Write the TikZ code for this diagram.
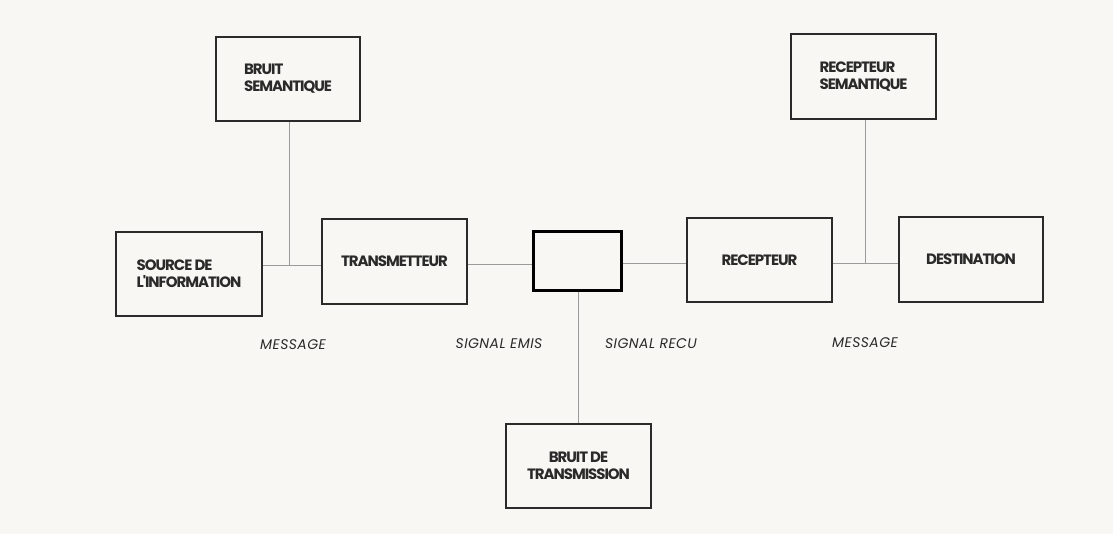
\documentclass[tikz,border=0pt]{standalone}
\usepackage{fontspec}
\setmainfont{Poppins}
\newfontfamily\boxfont[LetterSpace=-7]{Poppins}
\newfontfamily\lblfont[LetterSpace=3]{Poppins}
\definecolor{paper}{HTML}{F8F7F3}
\definecolor{ink}{HTML}{2A2A2A}
\definecolor{wire}{HTML}{9A9A9A}
\tikzset{
  box/.style={draw=ink, line width=1.3pt, rectangle, inner sep=0pt,
    minimum width=145pt, minimum height=84pt, text=ink,
    font=\boxfont\bfseries\fontsize{15}{17}\selectfont},
  chanbox/.style={draw=black, line width=2.4pt, rectangle, inner sep=0pt,
    minimum width=88pt, minimum height=59pt},
  wireline/.style={draw=wire, line width=0.9pt},
  lbl/.style={font=\lblfont\itshape\fontsize{14}{16}\selectfont, text=ink, inner sep=0pt}
}
\begin{document}
\begin{tikzpicture}[x=1pt,y=-1pt]
\fill[paper] (0,0) rectangle (1113,534);
\useasboundingbox (0,0) rectangle (1113,534);

\node[box, minimum width=144pt, align=left] (bsem) at (288,79) {BRUIT\\SEMANTIQUE};
\node[box, minimum width=146pt, align=left] (source) at (189,274) {SOURCE DE\\L'INFORMATION};
\node[box, minimum height=85pt] (trans) at (394.5,261.5) {TRANSMETTEUR};
\node[chanbox] (chan) at (577.5,261) {};
\node[box] (recep) at (759.5,260) {RECEPTEUR};
\node[box, minimum height=85pt, align=left] (rsem) at (863.5,76.5) {RECEPTEUR\\SEMANTIQUE};
\node[box, minimum width=144pt, minimum height=85pt] (dest) at (971,259.5) {DESTINATION};
\node[box, align=center] (btrans) at (578.5,466) {BRUIT DE\\TRANSMISSION};

\coordinate (j1) at (289,265);
\coordinate (j2) at (865,263);

\draw[wireline] (bsem.south -| j1) -- (j1);
\draw[wireline] (j1 -| source.east) -- (j1 -| trans.west);
\draw[wireline] (trans.east |- 0,264) -- (chan.west |- 0,264);
\draw[wireline] (chan.east |- 0,263) -- (recep.west |- 0,263);
\draw[wireline] (chan.south -| 578,0) -- (btrans.north -| 578,0);
\draw[wireline] (rsem.south -| j2) -- (j2);
\draw[wireline] (j2 -| recep.east) -- (j2 -| dest.west);

\node[lbl] (m1) at (293,345) {MESSAGE};
\node[lbl] (se) at (499,344) {SIGNAL EMIS};
\node[lbl] (sr) at (651,344) {SIGNAL RECU};
\node[lbl] (m2) at (865,343) {MESSAGE};
\end{tikzpicture}
\end{document}
